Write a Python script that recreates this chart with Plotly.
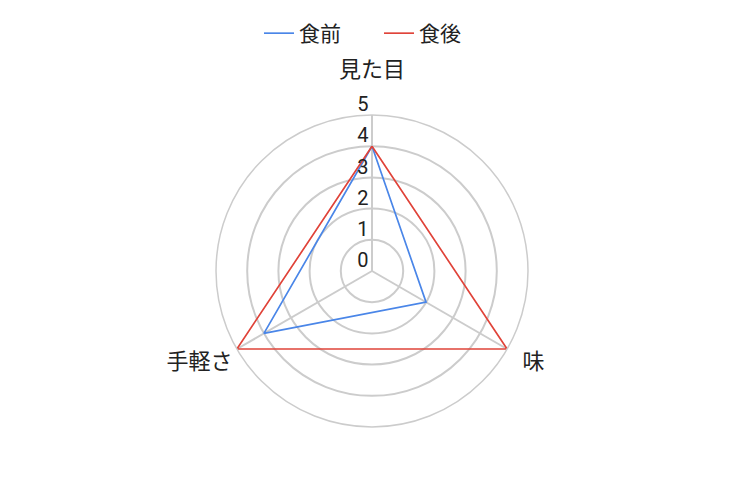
import plotly.graph_objects as go

categories = ["見た目", "味", "手軽さ"]
category_labels = ["見た目<br><span style='font-size:6px'>\u00a0</span>",
                   "\u00a0\u00a0味", "手軽さ"]
before = [4, 2, 4]
after = [4, 5, 5]
radial_ticks = [0, 1, 2, 3, 4, 5]

font_family = "Roboto, 'Noto Sans CJK JP', sans-serif"

# label layer: a second polar whose range starts below zero so that the
# tick labels sit just above each ring, like the original chart
shift = 0.33
scale = (radial_ticks[-1] + shift) / radial_ticks[-1]
cx, cy, R = 364, 263, 156  # centre / radius in px
W, H = 742, 503


def dom(rad):
    return dict(x=[(cx - rad) / W, (cx + rad) / W],
                y=[1 - (cy + rad) / H, 1 - (cy - rad) / H])


fig = go.Figure()
fig.add_trace(go.Scatterpolar(
    r=before + before[:1], theta=categories + categories[:1],
    mode="lines", name="食前",
    line=dict(color="#4a86e8", width=1.7),
))
fig.add_trace(go.Scatterpolar(
    r=after + after[:1], theta=categories + categories[:1],
    mode="lines", name="食後",
    line=dict(color="#e0443a", width=1.7),
))
fig.add_trace(go.Scatterpolar(r=[], theta=[], subplot="polar2",
                              showlegend=False, hoverinfo="skip"))

fig.update_layout(
    width=W, height=H,
    margin=dict(l=0, r=0, t=0, b=0),
    paper_bgcolor="white",
    font=dict(family=font_family, size=20, color="#222222"),
    showlegend=True,
    legend=dict(orientation="h", x=0.5, xanchor="center", y=0.99, yanchor="top",
                entrywidth=75, itemwidth=30,
                font=dict(size=21, color="#222222")),
    polar=dict(
        domain=dom(R),
        bgcolor="white",
        radialaxis=dict(
            range=[0, radial_ticks[-1]], tickvals=radial_ticks, angle=90,
            showticklabels=False, showline=False, ticks="",
            gridcolor="#cccccc", gridwidth=1.5,
        ),
        angularaxis=dict(
            rotation=90, direction="clockwise",
            tickvals=categories, ticktext=category_labels,
            showline=True, linecolor="#cccccc", linewidth=1.5,
            ticks="", gridcolor="#cccccc", gridwidth=1.5,
            tickfont=dict(size=22, color="#222222"),
        ),
    ),
    polar2=dict(
        domain=dom(R * scale),
        bgcolor="rgba(0,0,0,0)",
        radialaxis=dict(
            range=[-shift, radial_ticks[-1]], tickvals=radial_ticks,
            angle=90, tickangle=90, side="counterclockwise",
            showline=False, showgrid=False, ticks="",
            tickfont=dict(size=20, color="#222222"),
        ),
        angularaxis=dict(visible=False, rotation=90, direction="clockwise"),
    ),
)

fig.write_html("out.html")
